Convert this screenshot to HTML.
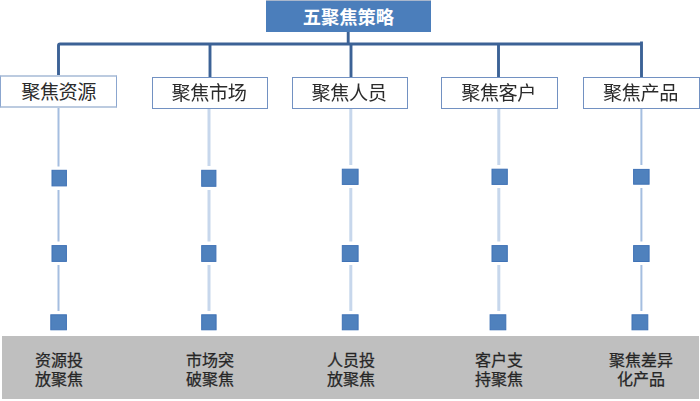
<!DOCTYPE html>
<html lang="zh-CN">
<head>
<meta charset="utf-8">
<title>五聚焦策略</title>
<style>
html,body{margin:0;padding:0;background:#fff;}
body{width:700px;height:401px;position:relative;overflow:hidden;font-family:"Liberation Sans","Noto Sans CJK SC",sans-serif;}
#stage{position:absolute;left:0;top:0;width:700px;height:401px;filter:blur(0.7px);}
svg{position:absolute;left:0;top:0;}
.top{position:absolute;left:265.7px;top:0;width:165.4px;height:32px;box-sizing:border-box;border-top:1.2px solid #a9b7cc;background:#4b7ebb;color:#fff;font-weight:bold;font-size:18.3px;line-height:34.6px;text-align:center;}
.box{position:absolute;box-sizing:border-box;height:32px;width:116.4px;border:1.7px solid #7291c2;padding-right:2px;background:#fff;color:#2b2b2b;font-size:19.2px;letter-spacing:-0.5px;line-height:32.2px;text-align:center;}
.band{position:absolute;left:1.5px;top:335.7px;width:697.3px;height:63.2px;background:#bfbfbf;}
.lbl{position:absolute;top:351.4px;width:100px;font-size:16px;line-height:19px;color:#262626;-webkit-text-stroke:0.25px #262626;text-align:center;}
</style>
</head>
<body>
<div id="stage">
<svg width="700" height="401" viewBox="0 0 700 401">
  <g stroke="#3c6296" stroke-width="2.9" fill="none" stroke-linejoin="round">
    <path d="M58.5 77 V45.5 Q58.5 44 60.1 44 H641.5"/>
    <path d="M641.5 41.5 V77"/>
    <path d="M210 44 V77"/>
    <path d="M351 44 V77"/>
    <path d="M498.5 44 V77"/>
    <path d="M348.2 32 V44"/>
  </g>
  <g fill="none">
    <path stroke="#a5bee0" stroke-width="2" d="M58.5 108 V166.5 M58.5 190 V241.5 M58.5 265 V311"/>
    <path stroke="#c7d7ec" stroke-width="3" d="M209 108 V166 M209 190 V241.5 M209 265 V311"/>
    <path stroke="#c7d7ec" stroke-width="3" d="M350.8 108 V165 M350.8 188 V241.5 M350.8 265 V311"/>
    <path stroke="#c7d7ec" stroke-width="3" d="M498.8 108 V165 M498.8 188 V241.5 M498.8 265 V311"/>
    <path stroke="#a5bee0" stroke-width="2" d="M641.4 108 V165 M641.4 188 V241.5 M641.4 265 V311"/>
  </g>
  <g fill="#4f81bd" stroke="#3f72b6" stroke-width="1">
    <rect x="52" y="170.3" width="14.4" height="15.6"/>
    <rect x="52" y="245.6" width="14.4" height="15.8"/>
    <rect x="50.8" y="314.8" width="15.6" height="15"/>
    <rect x="201.7" y="170.3" width="14.2" height="16"/>
    <rect x="201.7" y="245.6" width="14.2" height="15.8"/>
    <rect x="201.7" y="314.8" width="14.4" height="15"/>
    <rect x="342.3" y="169.2" width="15.8" height="15.2"/>
    <rect x="342.3" y="245.6" width="15.8" height="15.9"/>
    <rect x="342.3" y="314.8" width="15.8" height="15"/>
    <rect x="492" y="169.2" width="15.3" height="15.2"/>
    <rect x="492" y="245.6" width="15.3" height="15.9"/>
    <rect x="490.1" y="314.8" width="15.7" height="15"/>
    <rect x="633.6" y="169.4" width="15.5" height="14.8"/>
    <rect x="633.6" y="245.6" width="15.5" height="15.9"/>
    <rect x="632" y="314.8" width="15.8" height="15"/>
  </g>
</svg>
<div class="band"></div>
<div class="top">五聚焦策略</div>
<div class="box" style="left:0.4px;top:75.3px;height:33px;border-top:2.6px solid #bccbe0;border-bottom:2.6px solid #bccbe0;border-left-color:#8ba6cf;border-right-color:#8ba6cf;line-height:32.2px;padding-right:0;">聚焦资源</div>
<div class="box" style="left:151.8px;top:76.8px;">聚焦市场</div>
<div class="box" style="left:291.8px;top:76.8px;">聚焦人员</div>
<div class="box" style="left:441.4px;top:76.8px;">聚焦客户</div>
<div class="box" style="left:583.3px;top:76.8px;">聚焦产品</div>
<div class="lbl" style="left:9px;">资源投<br>放聚焦</div>
<div class="lbl" style="left:160px;">市场突<br>破聚焦</div>
<div class="lbl" style="left:301px;">人员投<br>放聚焦</div>
<div class="lbl" style="left:449px;">客户支<br>持聚焦</div>
<div class="lbl" style="left:591px;">聚焦差异<br>化产品</div>
</div>
</body>
</html>
